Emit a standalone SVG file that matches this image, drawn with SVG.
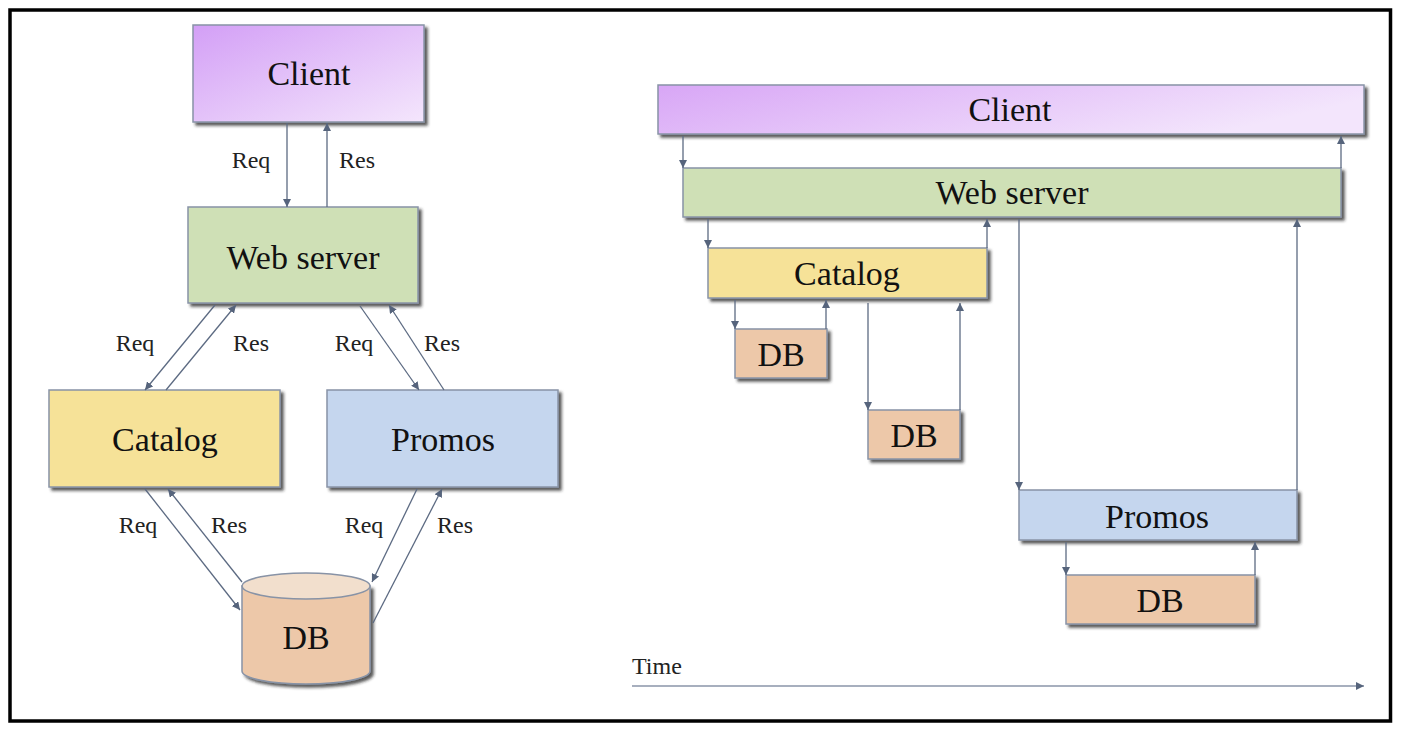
<svg xmlns="http://www.w3.org/2000/svg" width="1402" height="736" viewBox="0 0 1402 736">
<defs>
<linearGradient id="gClient" x1="0" y1="0" x2="1" y2="1">
<stop offset="0" stop-color="#d39ff6"/>
<stop offset="1" stop-color="#f4e6fc"/>
</linearGradient>
<linearGradient id="gClient2" x1="0" y1="0" x2="1" y2="0.3">
<stop offset="0" stop-color="#d8a6f6"/>
<stop offset="1" stop-color="#f3e5fc"/>
</linearGradient>
<filter id="sh" x="-10%" y="-10%" width="130%" height="140%">
<feDropShadow dx="3" dy="3" stdDeviation="1.5" flood-color="#222" flood-opacity="0.75"/>
</filter>
<marker id="ah" markerWidth="8" markerHeight="8" refX="8" refY="4" orient="auto" markerUnits="userSpaceOnUse">
<path d="M0,0 L8,4 L0,8 z" fill="#56647c"/>
</marker>
</defs>
<style>
.box{stroke:#8893a6;stroke-width:1.5;filter:url(#sh)}
.t{font-family:"Liberation Serif","Times New Roman",serif;font-size:34px;fill:#111;text-anchor:middle}
.l{font-family:"Liberation Serif","Times New Roman",serif;font-size:24px;fill:#222;text-anchor:middle}
.c line{stroke:#5c6a82;stroke-width:1.3;marker-end:url(#ah)}
</style>
<rect x="0" y="0" width="1402" height="736" fill="#fff"/>
<rect id="frame" x="10" y="10" width="1380.5" height="711" fill="none" stroke="#000" stroke-width="3.5"/>

<!-- Left diagram -->
<g id="l-client"><rect class="box" x="193" y="25" width="231" height="97" fill="url(#gClient)"/><text class="t" x="309" y="85">Client</text></g>
<g id="l-web"><rect class="box" x="188" y="207" width="230" height="96" fill="#cfe0b6"/><text class="t" x="303" y="269">Web server</text></g>
<g id="l-catalog"><rect class="box" x="49" y="390" width="231" height="97" fill="#f6e298"/><text class="t" x="165" y="451">Catalog</text></g>
<g id="l-promos"><rect class="box" x="327" y="390" width="231" height="97" fill="#c5d6ee"/><text class="t" x="443" y="451">Promos</text></g>
<g id="l-db">
<path d="M242,586 L242,671 A64,13 0 0 0 370,671 L370,586 Z" fill="#edc8a9" stroke="#8893a6" stroke-width="1.5" filter="url(#sh)"/>
<ellipse cx="306" cy="586" rx="64" ry="13" fill="#f2dfcd" stroke="#8893a6" stroke-width="1.5"/>
<text class="t" x="306" y="649">DB</text>
</g>

<!-- Right diagram -->
<g id="r-client"><rect class="box" x="658" y="85" width="706" height="49" fill="url(#gClient2)"/><text class="t" x="1010" y="121">Client</text></g>
<g id="r-web"><rect class="box" x="683" y="168" width="658" height="49" fill="#cfe0b6"/><text class="t" x="1012" y="204">Web server</text></g>
<g id="r-catalog"><rect class="box" x="708" y="248" width="279" height="50" fill="#f6e298"/><text class="t" x="847" y="285">Catalog</text></g>
<g id="r-db1"><rect class="box" x="735" y="329" width="92" height="49" fill="#edc8a9"/><text class="t" x="781" y="366">DB</text></g>
<g id="r-db2"><rect class="box" x="868" y="410" width="92" height="49" fill="#edc8a9"/><text class="t" x="914" y="447">DB</text></g>
<g id="r-promos"><rect class="box" x="1019" y="490" width="278" height="50" fill="#c5d6ee"/><text class="t" x="1157" y="528">Promos</text></g>
<g id="r-db3"><rect class="box" x="1066" y="575" width="189" height="49" fill="#edc8a9"/><text class="t" x="1160" y="612">DB</text></g>

<g id="connectors" class="c">
<line x1="287" y1="123" x2="287" y2="207"/>
<line x1="327" y1="207" x2="327" y2="123"/>
<line x1="215" y1="305" x2="145" y2="390"/>
<line x1="166" y1="390" x2="236" y2="305"/>
<line x1="360" y1="306" x2="419" y2="390"/>
<line x1="444" y1="390" x2="389" y2="305"/>
<line x1="145" y1="489" x2="240" y2="610"/>
<line x1="242" y1="582" x2="168" y2="489"/>
<line x1="417" y1="489" x2="372" y2="582"/>
<line x1="373" y1="623" x2="442" y2="489"/>

<line x1="683" y1="136" x2="683" y2="168"/>
<line x1="1341" y1="168" x2="1341" y2="136"/>
<line x1="708" y1="219" x2="708" y2="248"/>
<line x1="987" y1="248" x2="987" y2="219"/>
<line x1="1019" y1="219" x2="1019" y2="490"/>
<line x1="1297" y1="490" x2="1297" y2="219"/>
<line x1="735" y1="300" x2="735" y2="329"/>
<line x1="826" y1="329" x2="826" y2="300"/>
<line x1="868" y1="303" x2="868" y2="410"/>
<line x1="960" y1="410" x2="960" y2="303"/>
<line x1="1066" y1="542" x2="1066" y2="575"/>
<line x1="1255" y1="575" x2="1255" y2="542"/>
<line x1="632" y1="686" x2="1364" y2="686" style="stroke:#8a94a8"/>
</g>

<g id="labels">
<text class="l" x="251" y="168">Req</text>
<text class="l" x="357" y="168">Res</text>
<text class="l" x="135" y="351">Req</text>
<text class="l" x="251" y="351">Res</text>
<text class="l" x="354" y="351">Req</text>
<text class="l" x="442" y="351">Res</text>
<text class="l" x="138" y="533">Req</text>
<text class="l" x="229" y="533">Res</text>
<text class="l" x="364" y="533">Req</text>
<text class="l" x="455" y="533">Res</text>
<text class="l" x="632" y="674" style="text-anchor:start">Time</text>
</g>
</svg>
